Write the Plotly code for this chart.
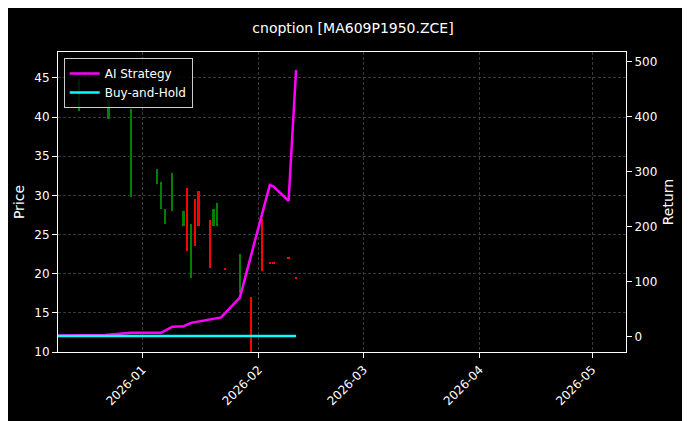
import plotly.graph_objects as go

# candles: date, low, high, direction (1 up / -1 down)
c_dates = ["2025-12-15", "2025-12-23", "2025-12-29", "2026-01-05", "2026-01-06", "2026-01-07",
           "2026-01-09", "2026-01-12", "2026-01-13", "2026-01-14", "2026-01-15", "2026-01-16",
           "2026-01-19", "2026-01-20", "2026-01-21", "2026-01-23", "2026-01-27", "2026-01-30",
           "2026-02-02", "2026-02-04", "2026-02-05", "2026-02-09", "2026-02-11"]
c_low = [40.8, 39.7, 29.8, 31.4, 28.3, 26.4, 28.0, 26.1, 22.9, 19.5, 23.5, 26.1,
         20.7, 26.1, 26.1, 20.5, 17.5, 9.5, 20.4, 21.3, 21.3, 21.9, 19.4]
c_high = [44.8, 42.2, 41.0, 33.4, 31.7, 28.3, 32.8, 28.0, 30.9, 26.4, 29.5, 30.5,
          26.9, 28.3, 29.0, 20.7, 22.5, 17.0, 27.0, 21.5, 21.5, 22.1, 19.6]
c_dir = [1, 1, 1, 1, 1, 1, 1, 1, -1, 1, -1, -1, -1, 1, 1, -1, 1, -1, -1, -1, -1, -1, -1]

s_dates = ["2025-12-09", "2025-12-22", "2025-12-29", "2026-01-06", "2026-01-09", "2026-01-12",
           "2026-01-14", "2026-01-22", "2026-01-27", "2026-02-04", "2026-02-05", "2026-02-09",
           "2026-02-11"]
strategy = [2, 3, 7, 7, 18, 19, 25, 35, 71, 276, 273, 247, 485]
bh_dates = ["2025-12-09", "2026-02-11"]
buy_hold = [1, 1]

fig = go.Figure()
day_ms = 86400000
fig.add_trace(go.Bar(
    x=c_dates, y=[h - l for h, l in zip(c_high, c_low)], base=c_low,
    width=0.6 * day_ms, marker_color=["green" if d > 0 else "red" for d in c_dir],
    marker_line_width=0, showlegend=False, yaxis="y"))
fig.add_trace(go.Scatter(x=s_dates, y=strategy, mode="lines", name="AI Strategy",
                         line=dict(color="magenta", width=2.5), yaxis="y2"))
fig.add_trace(go.Scatter(x=bh_dates, y=buy_hold, mode="lines", name="Buy-and-Hold",
                         line=dict(color="cyan", width=2.5), yaxis="y2"))

grid = dict(showgrid=True, gridcolor="#3a3a3a", griddash="3px,2px", gridwidth=0.6)
fig.update_layout(
    width=690, height=421,
    paper_bgcolor="black", plot_bgcolor="black",
    font=dict(family="DejaVu Sans", color="white", size=12),
    title=dict(text="cnoption [MA609P1950.ZCE]", x=0.5, xanchor="center", y=0.965, font=dict(size=14)),
    margin=dict(l=50, r=72, t=44, b=77, autoexpand=False),
    xaxis=dict(range=["2025-12-09 12:00", "2026-05-10"], tickvals=["2026-01-01", "2026-02-01", "2026-03-01", "2026-04-01", "2026-05-01"],
               ticktext=["2026-01", "2026-02", "2026-03", "2026-04", "2026-05"], tickangle=-45,
               showline=True, linecolor="white", mirror=True, ticks="outside", tickcolor="white",
               automargin=False, **grid),
    yaxis=dict(title=dict(text="Price", standoff=6), range=[10, 48.3], dtick=5, showline=True, linecolor="white",
               ticks="outside", tickcolor="white", zeroline=False, automargin=False, **grid),
    yaxis2=dict(title=dict(text="Return", standoff=6), overlaying="y", side="right", range=[-28, 518], dtick=100,
                showline=True, linecolor="white", ticks="outside", tickcolor="white",
                showgrid=False, zeroline=False, automargin=False),
    legend=dict(x=0.01, y=0.98, bgcolor="rgba(0,0,0,0.8)", bordercolor="#ccc", borderwidth=1),
    bargap=0,
)
fig.write_html("out.html")
